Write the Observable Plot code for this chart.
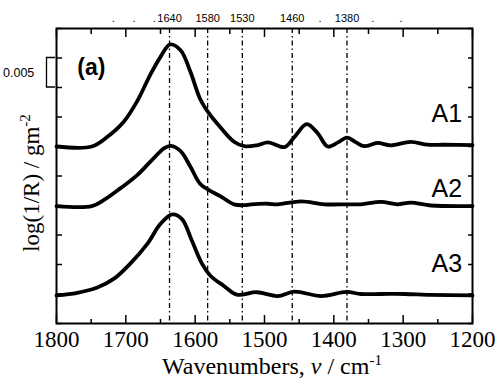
<!DOCTYPE html>
<html><head><meta charset="utf-8">
<script src="https://cdn.jsdelivr.net/npm/d3@7"></script>
<script src="https://cdn.jsdelivr.net/npm/@observablehq/plot@0.6"></script>
<style>body{margin:0;background:#fff}</style>
</head><body><div id="chart"></div>
<script>
// ---- data ----
const seriesNames = ["A1", "A2", "A3"];

const a1Wave = [1800,1749,1727,1703,1684,1665,1650,1636,1621,1607,1593,1580,1564,1544,1529,1511,1495,1471,1457,1439,1423,1409,1394,1381,1368,1356,1337,1318,1289,1265,1241,1200];
const a1Val  = [0.0300,0.0300,0.0316,0.0342,0.0376,0.0421,0.0452,0.0473,0.0463,0.0427,0.0381,0.0356,0.0333,0.0308,0.03005,0.0302,0.0307,0.0299,0.0316,0.0338,0.0322,0.0300,0.0307,0.0315,0.0307,0.03005,0.0306,0.0302,0.0308,0.0303,0.0303,0.03025];

const a2Wave = [1800,1749,1732,1708,1684,1660,1645,1635,1621,1607,1593,1580,1564,1544,1530,1519,1496,1481,1447,1414,1380,1361,1332,1308,1289,1260,1200];
const a2Val  = [0.0199,0.0199,0.0209,0.0229,0.0251,0.0280,0.0297,0.0301,0.0292,0.0266,0.0237,0.0226,0.0216,0.0202,0.02005,0.0202,0.0203,0.0202,0.0207,0.0202,0.0202,0.0202,0.0206,0.0202,0.0205,0.0200,0.0199];

const a3Wave = [1800,1770,1742,1717,1694,1669,1650,1633,1619,1605,1590,1578,1559,1540,1511,1481,1457,1418,1382,1361,1332,1298,1260,1200];
const a3Val  = [0.00475,0.0052,0.00605,0.0076,0.0101,0.0135,0.0169,0.0185,0.0177,0.0141,0.0101,0.0081,0.0064,0.0049,0.0053,0.00465,0.0054,0.00465,0.00535,0.0050,0.0050,0.0050,0.00485,0.00475];

const bandPos    = [1637, 1582, 1532, 1460, 1381];
const bandLabels = ["1640", "1580", "1530", "1460", "1380"];
const dotPos     = [1718, 1688, 1659, 1420, 1344, 1303];

const xMajor = [1800, 1700, 1600, 1500, 1400, 1300, 1200];
const xMinor = [1750, 1650, 1550, 1450, 1350, 1250];
const yTicks = [0, 0.005, 0.010, 0.015, 0.020, 0.025, 0.030, 0.035, 0.040, 0.045, 0.050];
const scaleBar = [0.040, 0.045];

// label anchors (data units)
const seriesLabelX = 1215;
const seriesLabelY = [0.0341, 0.0214, 0.0087];

// ---- build table ----
const series = [
  {name: seriesNames[0], wave: a1Wave, val: a1Val},
  {name: seriesNames[1], wave: a2Wave, val: a2Val},
  {name: seriesNames[2], wave: a3Wave, val: a3Val}
];
const rows = series.flatMap(s => s.wave.map((w, i) => ({series: s.name, w, v: s.val[i]})));

const serif = "'Liberation Serif', 'Times New Roman', serif";
const sans = "'Liberation Sans', Arial, sans-serif";

const plot = Plot.plot({
  width: 502, height: 386,
  marginLeft: 56, marginRight: 30, marginTop: 28, marginBottom: 63,
  style: {fontFamily: serif, fontSize: "23px", background: "#fff", color: "#000", overflow: "visible"},
  x: {domain: [1800, 1200], axis: null},
  y: {domain: [0, 0.05], axis: null},
  marks: [
    Plot.ruleX(bandPos, {stroke: "#000", strokeWidth: 1.3, strokeDasharray: "5,3,1.5,3"}),
    Plot.line(rows, {x: "w", y: "v", z: "series", curve: "catmull-rom", stroke: "#000", strokeWidth: 3.8, strokeLinejoin: "round", strokeLinecap: "round"}),
    Plot.frame({stroke: "#000", strokeWidth: 2}),
    Plot.axisX({anchor: "bottom", ticks: xMajor, tickSize: -8, fill: "none", label: null, strokeWidth: 1.5}),
    Plot.axisX({anchor: "bottom", ticks: xMinor, tickSize: -4, fill: "none", label: null, strokeWidth: 1.5}),
    Plot.axisX({anchor: "top", ticks: xMajor, tickSize: -8, fill: "none", label: null, strokeWidth: 1.5}),
    Plot.axisX({anchor: "top", ticks: xMinor, tickSize: -5, fill: "none", label: null, strokeWidth: 1.5}),
    Plot.axisX({anchor: "bottom", ticks: xMajor, tickSize: 0, tickPadding: 7, tickFormat: d => String(d), label: null, fontSize: 23, fontFamily: serif}),
    Plot.axisY({anchor: "left", ticks: yTicks, tickSize: -6, fill: "none", label: null, strokeWidth: 1.5}),
    Plot.axisY({anchor: "right", ticks: yTicks, tickSize: -5, fill: "none", label: null, strokeWidth: 1.5}),
    Plot.text(bandLabels, {x: (d, i) => bandPos[i], frameAnchor: "top", lineAnchor: "bottom", dy: -7, text: d => d, fontSize: 11, fontFamily: "'Liberation Sans Narrow', 'Liberation Sans', Arial, sans-serif"}),
    Plot.text(dotPos, {x: d => d, frameAnchor: "top", lineAnchor: "bottom", dy: -7, text: () => ".", fontSize: 11, fontFamily: sans}),
    Plot.text(seriesNames, {x: () => seriesLabelX, y: (d, i) => seriesLabelY[i], text: d => d, textAnchor: "end", lineAnchor: "bottom", fontSize: 25, fontFamily: sans}),
    Plot.text(["(a)"], {x: () => 1770, y: () => 0.0434, text: d => d, textAnchor: "start", fontSize: 23, fontWeight: "bold", fontFamily: sans})
  ]
});

document.getElementById("chart").appendChild(plot);

// ---- extra annotations: scale bar, axis titles with italic/superscript ----
const svg = d3.select(plot);
const ys = plot.scale("y");
const yTop = ys.apply(scaleBar[1]), yBot = ys.apply(scaleBar[0]);
svg.append("path")
  .attr("d", `M55,${yTop}H46.5V${yBot}H55`)
  .attr("fill", "none").attr("stroke", "#000").attr("stroke-width", 1.3);
svg.append("text")
  .attr("x", 3).attr("y", (yTop + yBot) / 2 + 4.5).attr("text-anchor", "start")
  .attr("font-family", sans).attr("font-size", 12.5).attr("fill", "#000")
  .text("0.005");

const xl = svg.append("text")
  .attr("x", 272).attr("y", 374).attr("text-anchor", "middle")
  .attr("font-family", serif).attr("font-size", 24).attr("fill", "#000");
xl.append("tspan").text("Wavenumbers, ");
xl.append("tspan").attr("font-style", "italic").text("ν");
xl.append("tspan").text(" / cm");
xl.append("tspan").attr("font-size", 15).attr("dy", -9).text("-1");

const yl = svg.append("text")
  .attr("transform", "translate(39,183) rotate(-90)").attr("text-anchor", "middle")
  .attr("font-family", serif).attr("font-size", 23).attr("fill", "#000");
yl.append("tspan").text("log(1/R) / gm");
yl.append("tspan").attr("font-size", 15).attr("dy", -9).text("-2");
</script>
</body></html>
